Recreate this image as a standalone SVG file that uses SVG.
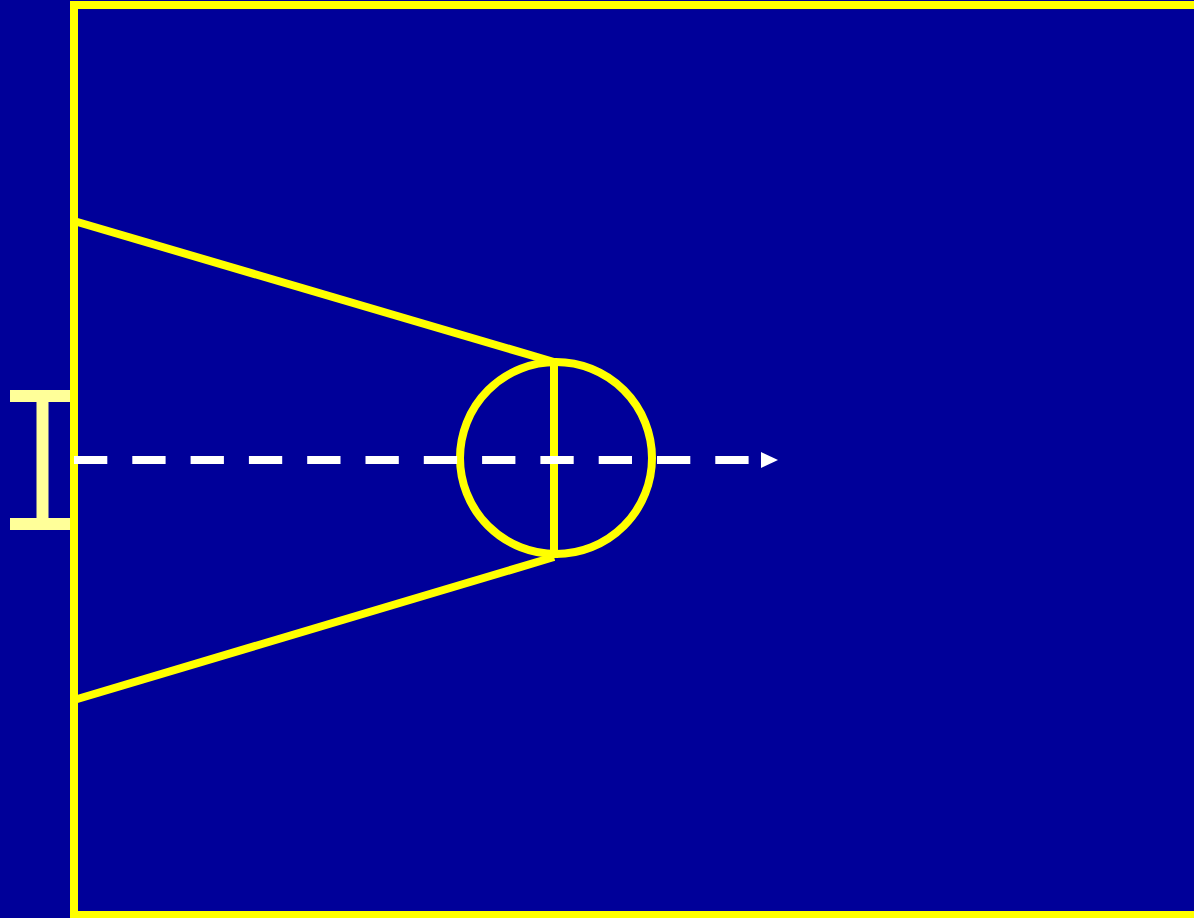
<svg xmlns="http://www.w3.org/2000/svg" width="1194" height="918" viewBox="0 0 1194 918">
<defs>
<style>
.court{fill:none;stroke:#FFFF00;stroke-width:8}
.board{fill:none;stroke:#FFFF99;stroke-width:12}
.path{fill:none;stroke:#FFFFFF;stroke-width:8;stroke-dasharray:33.3 25}
</style>
</defs>
<rect x="0" y="0" width="1194" height="918" fill="#000099"/>
<g id="court">
<rect class="court" x="74" y="5" width="1130" height="910"/>
<polyline class="court" points="74,221 554,362"/>
<polyline class="court" points="74,700 554,557"/>
<circle class="court" cx="556" cy="458" r="96"/>
<line class="court" x1="554" y1="362" x2="554" y2="558"/>
</g>
<g id="backboard">
<line class="board" x1="10" y1="396" x2="70" y2="396"/>
<line class="board" x1="10" y1="524" x2="70" y2="524"/>
<line class="board" x1="42.5" y1="396" x2="42.5" y2="524"/>
</g>
<g id="connectors">
<line class="path" x1="74" y1="460" x2="757" y2="460"/>
<polygon points="761,452 778,460 761,468" fill="#FFFFFF"/>
</g>
</svg>
